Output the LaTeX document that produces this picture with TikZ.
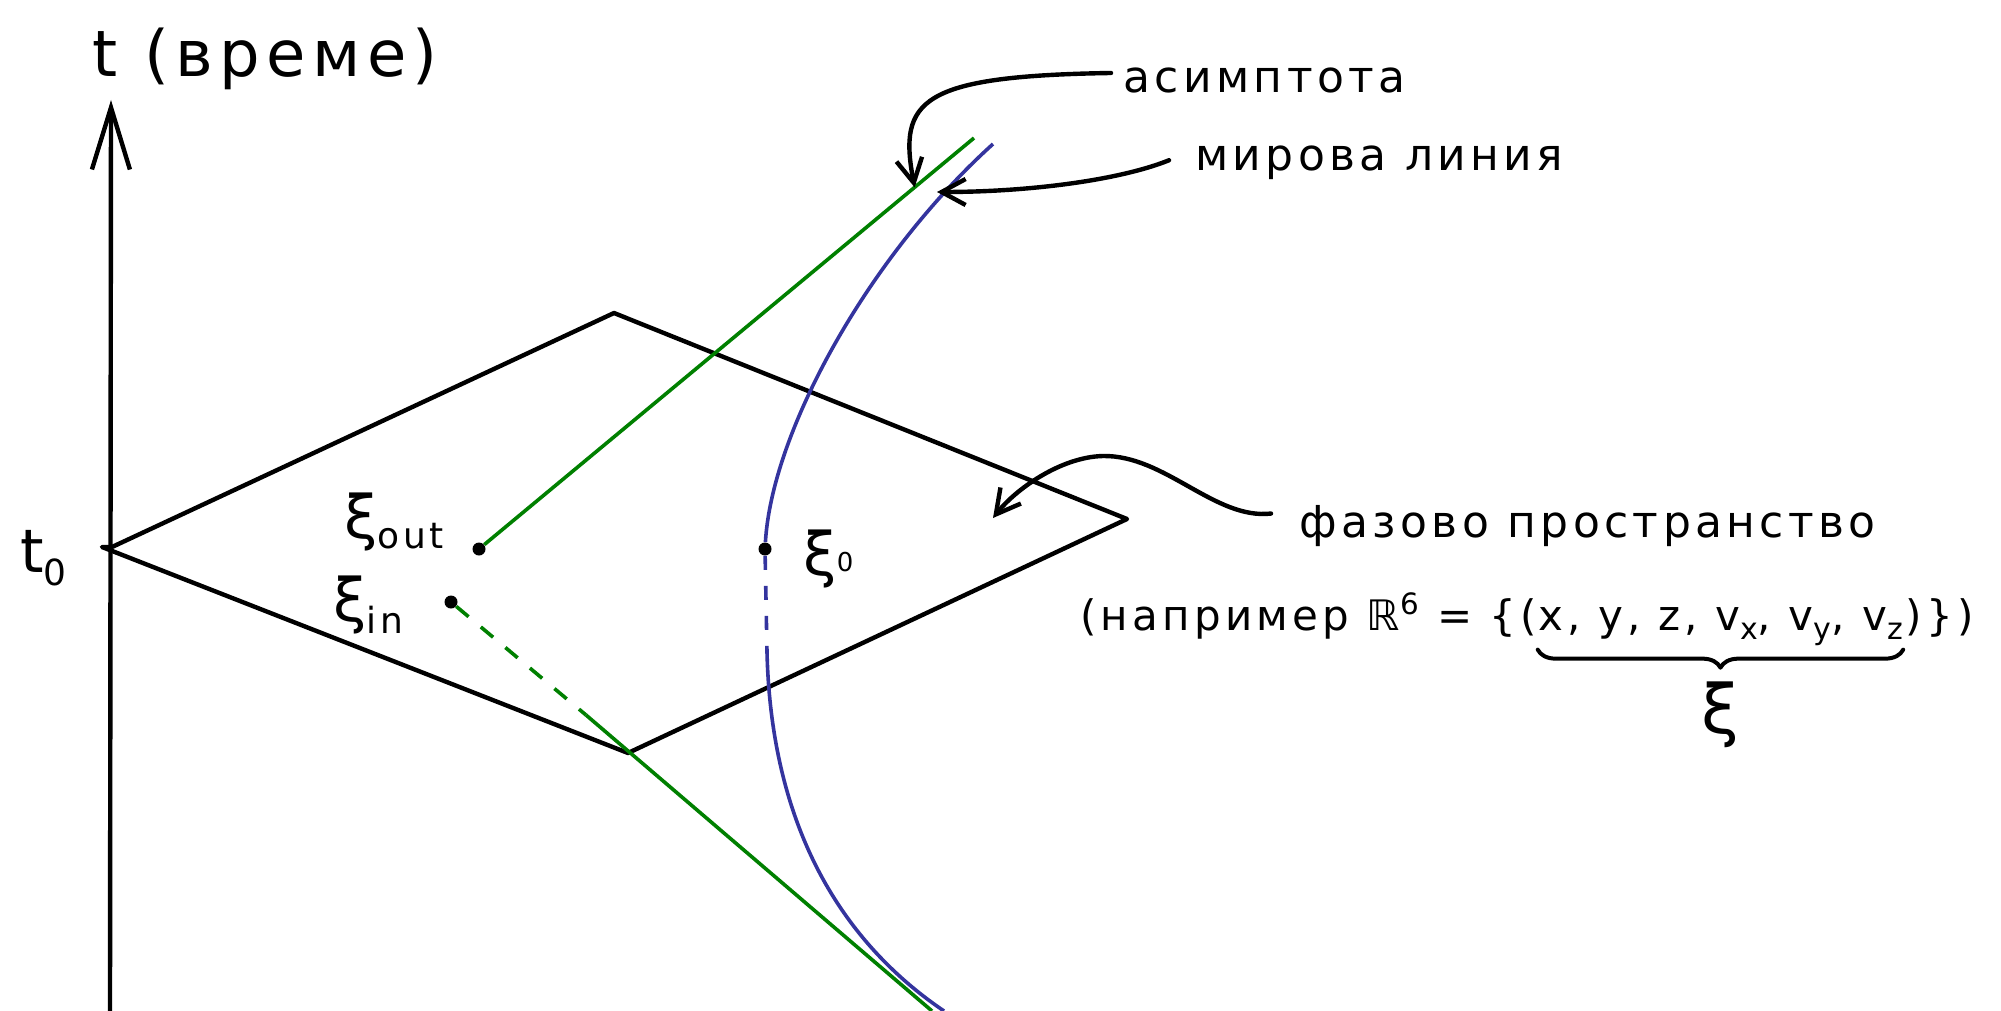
\documentclass[tikz,border=0pt]{standalone}
\usepackage{fontspec}
\setmainfont{DejaVu Sans}[LetterSpace=10]
\usepackage{tikz}
\usetikzlibrary{arrows.meta,positioning,calc,decorations.pathreplacing}
\definecolor{asymgreen}{RGB}{0,128,0}
\definecolor{worldblue}{RGB}{52,52,158}
\newcommand{\hsub}[1]{\raisebox{-4.5pt}{\fontsize{15}{17}\selectfont #1}}

\begin{document}
\begin{tikzpicture}[x=0.5pt, y=-0.5pt,
    ink/.style={line width=2.2pt, line cap=round, line join=round},
    pointer/.style={ink, -{Straight Barb[length=12pt, width=13pt]}},
    note/.style={inner sep=0pt, font=\fontsize{22}{26}\selectfont},
    xilabel/.style={inner sep=0pt, font=\fontsize{30}{34}\selectfont},
    ptdot/.style={circle, fill, inner sep=0pt, minimum size=6.5pt},
    asymline/.style={asymgreen, line width=1.8pt},
    worldline/.style={worldblue, line width=1.8pt}]
    \useasboundingbox (0,0) rectangle (2001,1011);

    % time axis
    \coordinate (axbot) at (110,1011);
    \coordinate (axtop) at (111,100);
    \draw [ink, -{Straight Barb[length=31pt, width=19pt]}] (axbot) -- (axtop);
    \node [note, font=\fontsize{32}{36}\selectfont, anchor=base west] (tlabel) at (92,76) {t (време)};
    \node [xilabel, anchor=base west] (tzero) at (20,572) {t\raisebox{-6.5pt}{\fontsize{18}{20}\selectfont 0}};

    % phase space plane
    \coordinate (L) at (112,547);
    \coordinate (T) at (614,313);
    \coordinate (R) at (1127,519);
    \coordinate (B) at (628,753);
    \coordinate (tick) at (102,547);
    \draw [ink] (tick) -- (L) -- (T) -- (R) -- (B) -- cycle;

    % points
    \node [ptdot] (pout) at (479,549) {};
    \node [ptdot] (pin) at (451,602) {};
    \node [ptdot] (pzero) at (765,549) {};
    \node [xilabel, anchor=base west] (xiout) at (344,538) {ξ\raisebox{-5pt}{\fontsize{18}{20}\selectfont out}};
    \node [xilabel, anchor=base west] (xiin) at (333,621) {ξ\raisebox{-6pt}{\fontsize{18}{20}\selectfont in}};
    \node [xilabel, anchor=base west] (xizero) at (803,575) {ξ\raisebox{2pt}{\fontsize{13}{15}\selectfont 0}};

    % asymptote
    \coordinate (gtop) at (974,138);
    \coordinate (gcut) at (586,715);
    \coordinate (gbot) at (932,1011);
    \draw [asymline] (pout) -- (gtop);
    \draw [asymline, dash pattern=on 8pt off 8pt] (pin) -- (gcut);
    \draw [asymline] (gcut) -- (gbot);

    % world line
    \coordinate (wtop) at (993,144);
    \coordinate (wcut) at (767,652);
    \coordinate (wbot) at (944,1011);
    \draw [worldline] (pzero) .. controls (772,430) and (870,255) .. (wtop);
    \draw [worldline, dash pattern=on 7pt off 8pt] (pzero) -- (wcut);
    \draw [worldline] (wcut) .. controls (770,780) and (810,920) .. (wbot);

    % labels with arrows
    \node [note, anchor=base west] (asymtext) at (1123,93) {асимптота};
    \node [note, anchor=base west] (worldtext) at (1195,170) {мирова линия};
    \node [note, anchor=base west] (phasetext) at (1299,537) {фазово пространство};
    \coordinate (asymtip) at ($(pout)!0.88!(gtop)$);
    \coordinate (wltip) at (937,192);
    \coordinate (phasetip) at (993,518);
    \draw [pointer] ([xshift=-6pt, yshift=4pt]asymtext.west) .. controls (920,76) and (898,100) .. (asymtip);
    \draw [pointer] ([xshift=-13pt, yshift=1pt]worldtext.west) .. controls (1120,180) and (1030,192) .. (wltip);
    \draw [pointer] ([xshift=-14pt, yshift=6pt]phasetext.west) .. controls (1215,520) and (1165,455) .. (1103,456)
        .. controls (1060,457) and (1015,490) .. (phasetip);

    % example: R^6
    \node [note, font=\fontsize{21}{25}\selectfont, anchor=base west] (ex1) at (1080,630) {(например ℝ\textsuperscript{6} = \{(};
    \node [note, font=\fontsize{21}{25}\selectfont, base right=0pt of ex1] (ex2) {x, y, z, v\hsub{x}, v\hsub{y}, v\hsub{z}};
    \node [note, font=\fontsize{21}{25}\selectfont, base right=1pt of ex2] (ex3) {)\})};
    \draw [ink, line width=2pt, decorate, decoration={brace, mirror, amplitude=9pt}]
        ([yshift=-2pt]ex2.south west) -- ([yshift=-2pt]ex2.south east);
    \node [xilabel, font=\fontsize{34}{38}\selectfont, below=18pt of ex2.south] (xisum) {ξ};
\end{tikzpicture}
\end{document}
